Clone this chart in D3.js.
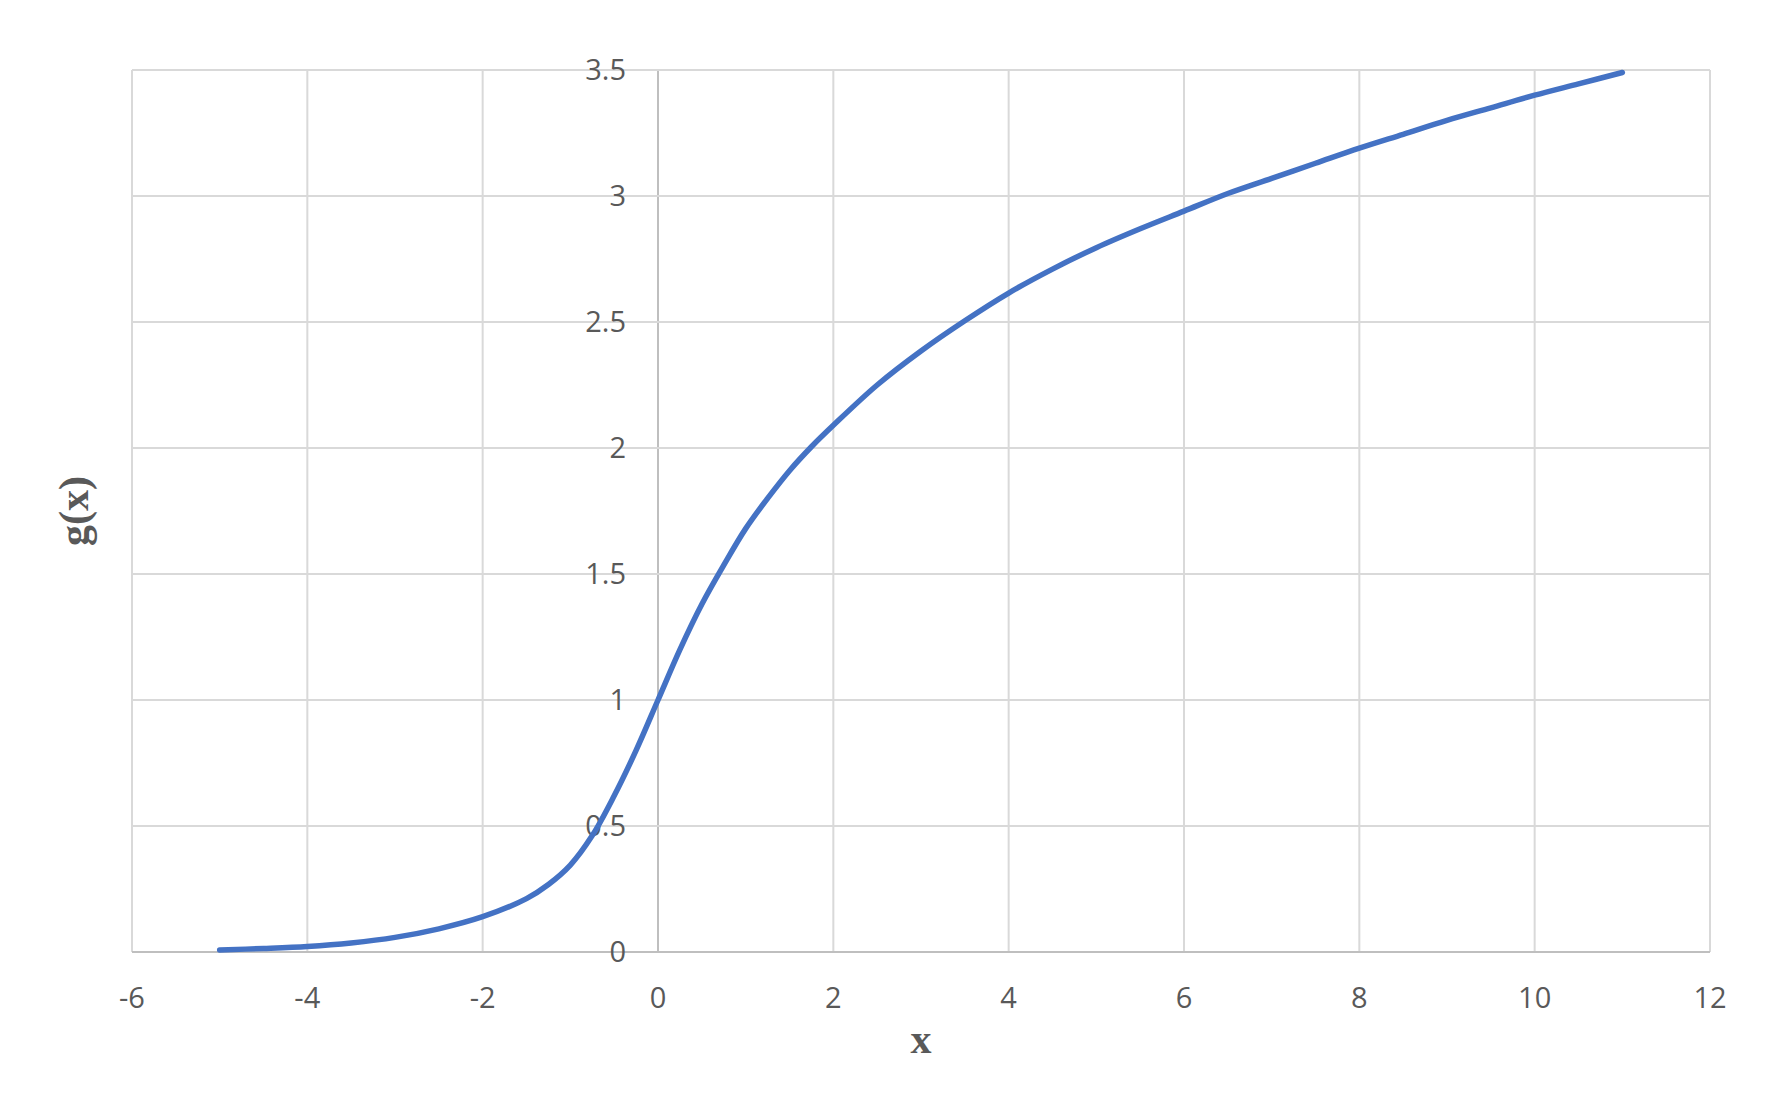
<!DOCTYPE html>
<html>
<head>
<meta charset="utf-8">
<script src="https://cdn.jsdelivr.net/npm/d3@7"></script>
<style>
  html, body { margin: 0; padding: 0; background: #fff; }
  .tick-label { font-family: "Open Sans", sans-serif; font-size: 29px; fill: #595959; }
  .axis-title { font-family: "Liberation Serif", "Times New Roman", serif; font-weight: bold; font-size: 42px; fill: #595959; }
</style>
</head>
<body>
<div id="chart"></div>
<script>
// values
var xValues = [-5, -4.5, -4, -3.5, -3, -2.5, -2, -1.5, -1.25, -1, -0.75, -0.5, -0.25, 0, 0.25, 0.5, 0.75, 1, 1.25, 1.5, 1.75,
               2, 2.5, 3, 3.5, 4, 4.5, 5, 5.5, 6, 6.5, 7, 7.5, 8, 8.5, 9, 9.5, 10, 10.5, 11];
var gValues = [0.008, 0.014, 0.022, 0.036, 0.058, 0.092, 0.140, 0.212, 0.268, 0.345, 0.462, 0.620, 0.800, 1.0, 1.20, 1.38, 1.535, 1.68, 1.80, 1.91, 2.005,
               2.09, 2.25, 2.385, 2.505, 2.615, 2.71, 2.795, 2.87, 2.94, 3.01, 3.07, 3.13, 3.19, 3.245, 3.30, 3.35, 3.40, 3.445, 3.49];
var xTicks = [-6, -4, -2, 0, 2, 4, 6, 8, 10, 12];
var yTicks = [0, 0.5, 1, 1.5, 2, 2.5, 3, 3.5];

var width = 1788, height = 1110;
var margin = {top: 70, right: 78, bottom: 158, left: 132};

var svg = d3.select("#chart").append("svg")
  .attr("width", width)
  .attr("height", height);

var x = d3.scaleLinear().domain([-6, 12]).range([margin.left, width - margin.right]);
var y = d3.scaleLinear().domain([0, 3.5]).range([height - margin.bottom, margin.top]);

var grid = svg.append("g");

// vertical gridlines
grid.selectAll(".vgrid")
  .data(xTicks).enter()
  .append("line")
    .attr("x1", function (d) { return x(d); })
    .attr("x2", function (d) { return x(d); })
    .attr("y1", y(0))
    .attr("y2", y(3.5))
    .style("stroke", function (d) { return d === 0 ? "#bfbfbf" : "#d9d9d9"; })
    .style("stroke-width", 2);

// horizontal gridlines
grid.selectAll(".hgrid")
  .data(yTicks).enter()
  .append("line")
    .attr("x1", x(-6))
    .attr("x2", x(12))
    .attr("y1", function (d) { return y(d); })
    .attr("y2", function (d) { return y(d); })
    .style("stroke", function (d) { return d === 0 ? "#bfbfbf" : "#d9d9d9"; })
    .style("stroke-width", 2);

// y tick labels sit left of the x = 0 axis
svg.selectAll(".ylab")
  .data(yTicks).enter()
  .append("text")
    .attr("class", "tick-label")
    .attr("x", x(0) - 32)
    .attr("y", function (d) { return y(d); })
    .attr("dy", "0.36em")
    .style("text-anchor", "end")
    .text(function (d) { return d; });

svg.selectAll(".xlab")
  .data(xTicks).enter()
  .append("text")
    .attr("class", "tick-label")
    .attr("x", function (d) { return x(d); })
    .attr("y", y(0) + 46)
    .attr("dy", "0.36em")
    .style("text-anchor", "middle")
    .text(function (d) { return d; });

var points = xValues.map(function (d, i) { return [d, gValues[i]]; });

var line = d3.line()
  .x(function (d) { return x(d[0]); })
  .y(function (d) { return y(d[1]); })
  .curve(d3.curveCatmullRom.alpha(0.5));

svg.append("path")
  .datum(points)
  .attr("d", line)
  .style("fill", "none")
  .style("stroke", "#4472C4")
  .style("stroke-width", 5.5)
  .style("stroke-linecap", "round")
  .style("stroke-linejoin", "round");

svg.append("text")
  .attr("class", "axis-title")
  .attr("x", (x(-6) + x(12)) / 2)
  .attr("y", 1053)
  .style("text-anchor", "middle")
  .text("x");

svg.append("text")
  .attr("class", "axis-title")
  .attr("transform", "translate(88," + ((y(0) + y(3.5)) / 2) + ") rotate(-90)")
  .style("text-anchor", "middle")
  .text("g(x)");
</script>
</body>
</html>
